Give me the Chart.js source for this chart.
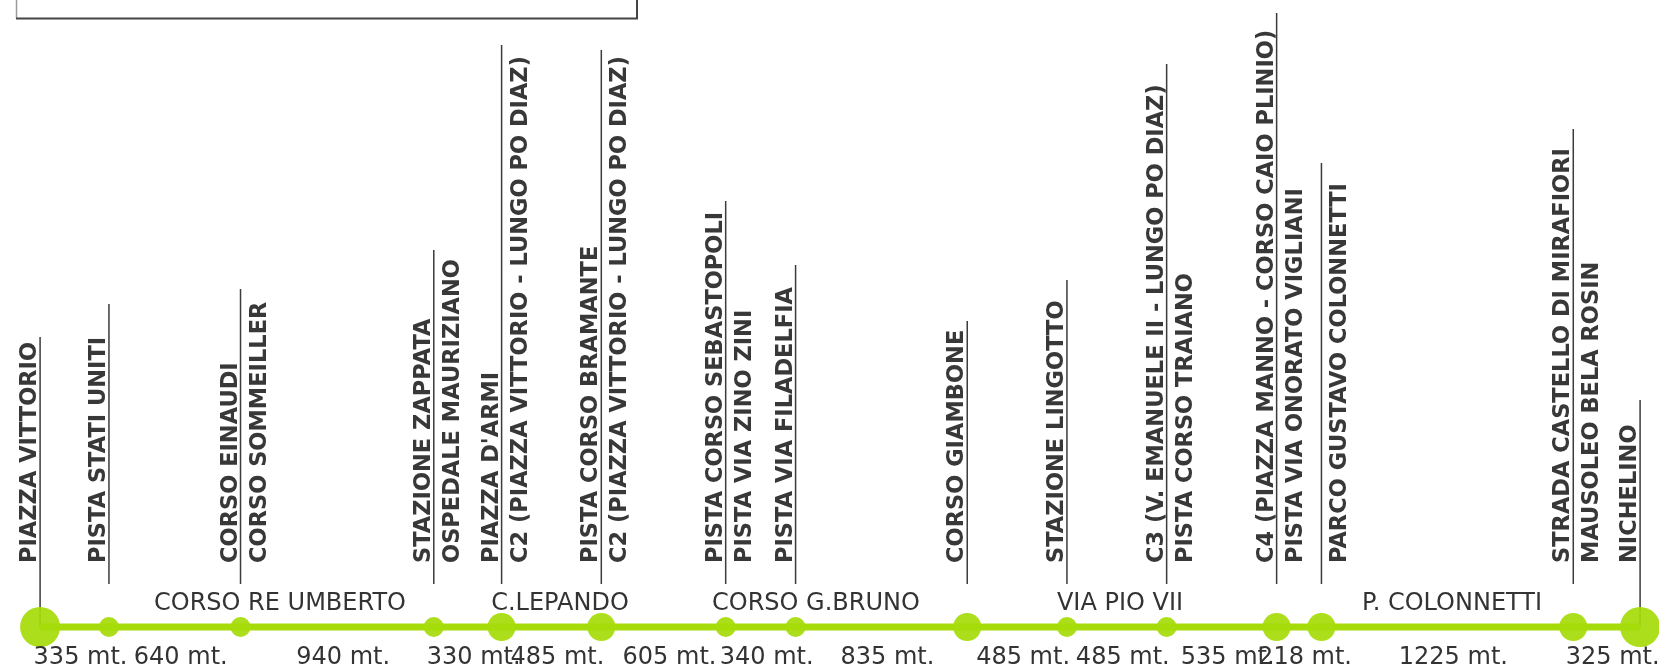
<!DOCTYPE html>
<html>
<head>
<meta charset="utf-8">
<script src="https://cdn.jsdelivr.net/npm/chart.js@4"></script>
<style>
  html, body { margin: 0; padding: 0; background: #fff; }
  #wrap { width: 1659px; height: 668px; position: relative; }
</style>
</head>
<body>
<div id="wrap"><canvas id="myChart"></canvas></div>
<script>
// distance (meters) between consecutive stops
var distances = [335, 640, 940, 330, 485, 605, 340, 835, 485, 485, 535, 218, 1225, 325];

// stop size: 2 = terminus, 1 = interchange, 0 = simple stop
var stopSize = [2, 0, 0, 0, 1, 1, 0, 0, 1, 0, 0, 1, 1, 1, 2];

// height of the name marker above the route
var markerHeight = [290, 323, 338, 377, 582, 577, 426, 362, 306, 347, 563, 614, 464, 498, 227];

var namesLeft = [
  "PIAZZA VITTORIO",
  "PISTA STATI UNITI",
  "CORSO EINAUDI",
  "STAZIONE ZAPPATA",
  "PIAZZA D'ARMI",
  "PISTA CORSO BRAMANTE",
  "PISTA CORSO SEBASTOPOLI",
  "PISTA VIA FILADELFIA",
  "CORSO GIAMBONE",
  "STAZIONE LINGOTTO",
  "C3 (V. EMANUELE II - LUNGO PO DIAZ)",
  "C4 (PIAZZA MANNO - CORSO CAIO PLINIO)",
  "",
  "STRADA CASTELLO DI MIRAFIORI",
  "NICHELINO"
];

var namesRight = [
  "",
  "",
  "CORSO SOMMEILLER",
  "OSPEDALE MAURIZIANO",
  "C2 (PIAZZA VITTORIO - LUNGO PO DIAZ)",
  "C2 (PIAZZA VITTORIO - LUNGO PO DIAZ)",
  "PISTA VIA ZINO ZINI",
  "",
  "",
  "",
  "PISTA CORSO TRAIANO",
  "PISTA VIA ONORATO VIGLIANI",
  "PARCO GUSTAVO COLONNETTI",
  "MAUSOLEO BELA ROSIN",
  ""
];

// street names and where (meters along the route) they are written
var streets = ["CORSO RE UMBERTO", "C.LEPANDO", "CORSO G.BRUNO", "VIA PIO VII", "P. COLONNETTI"];
var streetAt = [1167, 2529, 3774, 5253, 6868];

var green = "rgb(166, 219, 10)";
var radiusBySize = [10, 14, 20];

// positions of the stops along the route
var stops = [0];
for (var i = 0; i < distances.length; i++) {
  stops.push(stops[i] + distances[i]);
}

var routeData = [];
var radii = [];
var markerData = [];
for (var i = 0; i < stops.length; i++) {
  routeData.push({ x: stops[i], y: 0 });
  radii.push(radiusBySize[stopSize[i]]);
  markerData.push({ x: stops[i], y: stopSize[i] == 2 ? 0 : 43 });
  markerData.push({ x: stops[i], y: markerHeight[i] });
  markerData.push({ x: stops[i], y: null });
}

var labelsPlugin = {
  id: "routeLabels",
  afterDatasetsDraw: function (chart) {
    var ctx = chart.ctx;
    var xs = chart.scales.x;
    var ys = chart.scales.y;
    var baseY = ys.getPixelForValue(0);

    ctx.save();

    // empty frame at top left
    ctx.strokeStyle = "#9a9a9a";
    ctx.lineWidth = 1.5;
    ctx.beginPath();
    ctx.moveTo(16.5, -5);
    ctx.lineTo(16.5, 18);
    ctx.stroke();
    ctx.strokeStyle = "#444";
    ctx.lineWidth = 2;
    ctx.beginPath();
    ctx.moveTo(16, 18.5);
    ctx.lineTo(638, 18.5);
    ctx.moveTo(637, -5);
    ctx.lineTo(637, 19);
    ctx.stroke();

    // stop names, written upwards
    ctx.fillStyle = "#383838";
    ctx.font = "bold 22.5px 'DejaVu Sans'";
    ctx.textAlign = "left";
    ctx.textBaseline = "alphabetic";
    for (var i = 0; i < stops.length; i++) {
      var px = xs.getPixelForValue(stops[i]);
      if (namesLeft[i]) {
        ctx.save();
        ctx.translate(px - 4, baseY - 64);
        ctx.rotate(-Math.PI / 2);
        ctx.fillText(namesLeft[i], 0, 0);
        ctx.restore();
      }
      if (namesRight[i]) {
        ctx.save();
        ctx.translate(px + 25, baseY - 64);
        ctx.rotate(-Math.PI / 2);
        ctx.fillText(namesRight[i], 0, 0);
        ctx.restore();
      }
    }

    // street names above the route
    ctx.fillStyle = "#333";
    ctx.font = "24px 'DejaVu Sans'";
    ctx.textAlign = "center";
    for (var i = 0; i < streets.length; i++) {
      ctx.fillText(streets[i], xs.getPixelForValue(streetAt[i]), baseY - 17);
    }

    // distances below the route
    for (var i = 0; i < distances.length; i++) {
      var mid = (stops[i] + stops[i + 1]) / 2;
      ctx.fillText(distances[i] + " mt.", xs.getPixelForValue(mid) + 6, baseY + 37);
    }

    ctx.restore();
  }
};

var chartConfig = {
  type: "line",
  data: {
    datasets: [
      {
        label: "route",
        data: routeData,
        borderColor: green,
        borderWidth: 7,
        pointRadius: radii,
        pointHoverRadius: radii,
        pointBackgroundColor: "rgba(166, 219, 10, 0.93)",
        pointBorderWidth: 0,
        tension: 0,
        clip: false,
        order: 1
      },
      {
        label: "markers",
        data: markerData,
        borderColor: "#3c3c3c",
        borderWidth: 1.5,
        pointRadius: 0,
        spanGaps: false,
        tension: 0,
        clip: false,
        order: 2
      }
    ]
  },
  options: {
    responsive: true,
    maintainAspectRatio: false,
    animation: false,
    layout: { padding: 0, autoPadding: false },
    plugins: {
      legend: { display: false },
      tooltip: { enabled: false },
      title: { display: false }
    },
    events: [],
    scales: {
      x: { type: "linear", min: -195, max: 7875, display: false },
      y: { type: "linear", min: -41, max: 627, display: false }
    }
  },
  plugins: [labelsPlugin]
};

var myChart = new Chart(document.getElementById("myChart"), chartConfig);
</script>
</body>
</html>
